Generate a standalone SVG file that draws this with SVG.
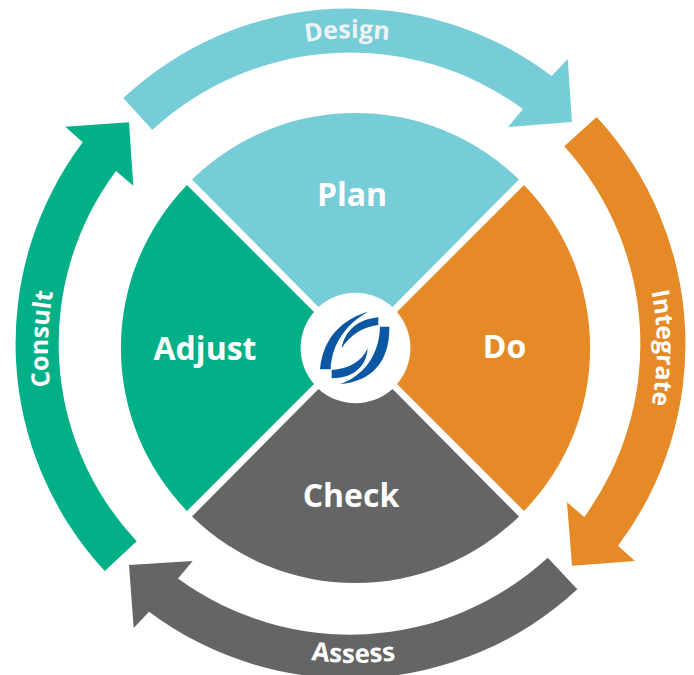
<svg xmlns="http://www.w3.org/2000/svg" width="694" height="675" viewBox="0 0 694 675">
<style>
.l{font-family:"Open Sans","Noto Sans",sans-serif;font-weight:700;fill:#fff;text-anchor:middle}
.c{font-size:32px}
.r{font-size:25px}
.a{fill:#76cdd8}.b{fill:#e58a26}.d{fill:#646665}.e{fill:#02b088}
.lg{fill:#0b57a4}
</style>
<defs>
<path id="tDesign" d="M201 79.3A308 308 0 0 1 509 79.3"/>
<path id="tIntegrate" d="M616.5 197A302 302 0 0 1 616.5 499"/>
<path id="tAssess" d="M198 621A315 315 0 0 0 512 621"/>
<path id="tConsult" d="M89 501.5A307 307 0 0 1 89 194.5"/>
</defs>
<rect width="694" height="675" fill="#fff"/>
<g id="connectors">
<path id="arrow-design" class="a" d="M123.3 98A333 333 0 0 1 551.7 76L567.7 59L572 122L508 127L523 109A292 292 0 0 0 152.3 130Z"/>
<path id="arrow-integrate" class="b" d="M596.7 117A335 335 0 0 1 618 545.7L635 561L572 565.7L567 502.3L584.3 517A295 295 0 0 0 564.3 146.3Z"/>
<path id="arrow-assess" class="d" d="M577.3 589.3A335 335 0 0 1 149 611.7L133.7 628L129 565L192.7 561L178 578.5A292 292 0 0 0 547.7 557.7Z"/>
<path id="arrow-consult" class="e" d="M104.7 571A335 335 0 0 1 82.7 142.3L65.3 126.7L129 122.3L133.3 185.7L116 171A289 289 0 0 0 136.7 541.3Z"/>
</g>
<g id="node-plan"><path class="a" d="M192 179.5A234 234 0 0 1 519 179.5L392.5 307A55 55 0 0 0 318.5 307Z"/><text class="l c" x="352" y="206">Plan</text></g>
<g id="node-do"><path class="b" d="M524 185A234 234 0 0 1 524 511L397 384A55 55 0 0 0 397 312Z"/><text class="l c" x="504.5" y="358">Do</text></g>
<g id="node-check"><path class="d" d="M519 516.5A234 234 0 0 1 192 516.5L318.5 389A55 55 0 0 0 392.5 389Z"/><text class="l c" x="351" y="507">Check</text></g>
<g id="node-adjust"><path class="e" d="M187 511A234 234 0 0 1 187 185L314 312A55 55 0 0 0 314 384Z"/><text class="l c" x="205" y="360">Adjust</text></g>
<g id="label-design"><text class="l r" style="fill:#eff3f4"><textPath href="#tDesign" startOffset="47.6%">Design</textPath></text></g>
<g id="label-integrate"><text class="l" style="font-size:24.5px"><textPath href="#tIntegrate" startOffset="50%">Integrate</textPath></text></g>
<g id="label-assess"><text class="l" style="font-size:26px"><textPath href="#tAssess" startOffset="49.5%">Assess</textPath></text></g>
<g id="label-consult"><text class="l r"><textPath href="#tConsult" startOffset="52.8%">Consult</textPath></text></g>
<g id="node-logo" transform="translate(290 280) scale(.3333)">
<path class="lg" d="M235 95C165 115 100 165 90 268L122 268C125 190 170 130 235 95Z"/>
<path class="lg" d="M265 112C205 118 165 150 155 205C180 165 220 140 265 135Z"/>
<path class="lg" d="M298 140L270 140C268 230 215 290 150 312C240 305 300 250 298 140Z"/>
<path class="lg" d="M233 205C215 245 175 268 125 270L125 295C190 295 230 260 233 205Z"/>
</g>
</svg>
